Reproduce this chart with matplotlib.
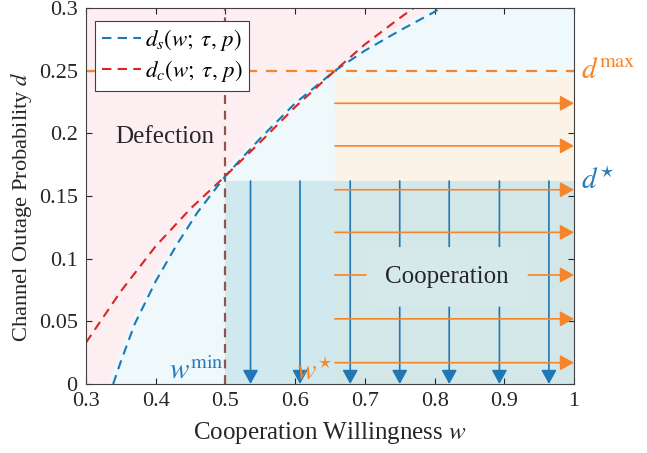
import numpy as np
import matplotlib
matplotlib.use('Agg')
import matplotlib.pyplot as plt

plt.rcParams['font.family'] = ['Liberation Serif', 'DejaVu Serif']
plt.rcParams['mathtext.fontset'] = 'stix'

# outage thresholds
w_ds = [0.339, 0.35, 0.37, 0.40, 0.43, 0.46, 0.50, 0.55, 0.60, 0.657, 0.70, 0.75, 0.80, 0.808]
d_ds = [0.000, 0.018, 0.048, 0.082, 0.111, 0.137, 0.166, 0.196, 0.224, 0.250, 0.266, 0.282, 0.297, 0.300]
w_dc = [0.30, 0.35, 0.40, 0.45, 0.50, 0.55, 0.60, 0.657, 0.70, 0.75, 0.77]
d_dc = [0.033, 0.074, 0.110, 0.140, 0.166, 0.193, 0.221, 0.250, 0.271, 0.292, 0.300]

w_min = 0.5
w_star = 0.657
d_max = 0.25
d_star = 0.162
d_orange_top = 0.245

# arrow positions
w_down = [0.536, 0.607, 0.679, 0.750, 0.821, 0.893, 0.964]
d_right = [0.017, 0.052, 0.087, 0.121, 0.155, 0.190, 0.224]

blue = '#1f77b4'
red = '#d62728'
orange = '#f5852a'
brown = '#8c564b'
dark = '#262626'

fig = plt.figure(figsize=(6.47, 4.53), dpi=100)
ax = fig.add_axes([0.1329, 0.1523, 0.7543, 0.8300])
ax.set_xlim(0.3, 1.0)
ax.set_ylim(0, 0.3)
ax.set_facecolor('#eff8fb')

# defection region above d_s
ax.fill_between([0.3] + w_ds + [1.0], [0] + d_ds + [0.3], 0.3, color='#fdeef2', lw=0, zorder=0.5)
ax.plot(w_ds, d_ds, color='#eff8fb', lw=6, solid_capstyle='butt', zorder=0.6)

# cooperation regions
ax.fill_between([w_star, 1.0], 0, d_orange_top, color='#fcf3e8', lw=0, zorder=0.7)
ax.fill_between([w_min, 1.0], 0, d_star, color='#bce0e9', alpha=0.62, lw=0, zorder=0.8)

head = '-|>,head_length=0.4,head_width=0.22'
for w in w_down:
    ax.annotate('', xy=(w, 0), xytext=(w, d_star),
                arrowprops=dict(arrowstyle=head, color=blue, lw=1.2,
                                mutation_scale=21, shrinkA=0, shrinkB=0), zorder=2)
for d in d_right:
    ax.annotate('', xy=(1.0, d), xytext=(w_star, d),
                arrowprops=dict(arrowstyle=head, color=orange, lw=1.2,
                                mutation_scale=21, shrinkA=0, shrinkB=0), zorder=2)

ax.axvline(w_min, color=brown, lw=1.6, ls=(0, (4, 3)), zorder=3)
ax.axhline(d_max, color=orange, lw=1.6, ls=(0, (5, 4)), zorder=3)
ax.plot(w_ds, d_ds, color=blue, lw=1.5, ls=(0, (4.5, 3)), zorder=4,
        label=r'$d_s(w;\;\tau,\,p)$')
ax.plot(w_dc, d_dc, color=red, lw=1.5, ls=(0, (4.5, 3)), zorder=4,
        label=r'$d_c(w;\;\tau,\,p)$')

ax.text(0.413, 0.197, 'Defection', fontsize=18, color=dark, ha='center', va='center', zorder=5)
ax.text(0.818, 0.0855, 'Cooperation', fontsize=18, color=dark, ha='center', va='center', zorder=5,
        bbox=dict(boxstyle='round,pad=0.75,rounding_size=0.3', fc='#d5e9eb', ec='none'))

ax.text(w_min - 0.003, 0.0, r'$w^{\min}$', fontsize=21, color='#2b7bba', ha='right', va='bottom', zorder=5)
ax.text(w_star - 0.003, 0.0, r'$w^{\star}$', fontsize=21, color=orange, ha='right', va='bottom', zorder=5)
trans = ax.get_yaxis_transform()
ax.text(1.015, d_max, r'$d^{\max}$', fontsize=21, color=orange, transform=trans,
        ha='left', va='center', clip_on=False)
ax.text(1.015, d_star, r'$d^{\star}$', fontsize=21, color='#2b7bba', transform=trans,
        ha='left', va='center', clip_on=False)

ax.set_xticks(np.arange(0.3, 1.01, 0.1))
ax.set_xticklabels(['0.3', '0.4', '0.5', '0.6', '0.7', '0.8', '0.9', '1'])
ax.set_yticks(np.arange(0, 0.301, 0.05))
ax.set_yticklabels(['0', '0.05', '0.1', '0.15', '0.2', '0.25', '0.3'])
ax.tick_params(direction='in', top=True, right=True, labelsize=16, colors=dark,
               length=4, width=0.8, pad=6)
for s in ax.spines.values():
    s.set_color('#404040')
    s.set_linewidth(0.8)
    s.set_zorder(6)

ax.set_xlabel(r'Cooperation Willingness $w$', fontsize=18, color=dark)
ax.set_ylabel(r'Channel Outage Probability $d$', fontsize=16.2, color=dark)
ax.xaxis.set_label_coords(0.5, -0.097)
ax.yaxis.set_label_coords(-0.107, 0.471)

leg = ax.legend(loc='upper left', bbox_to_anchor=(0.005, 0.985), fontsize=16.5, frameon=True,
                fancybox=False, framealpha=1, edgecolor='#404040', handlelength=1.7,
                handletextpad=0.15, borderpad=0.3, labelspacing=0.2, borderaxespad=0.3)
leg.get_frame().set_linewidth(0.8)
leg.set_zorder(10)

fig.savefig('out.png', dpi=100)
